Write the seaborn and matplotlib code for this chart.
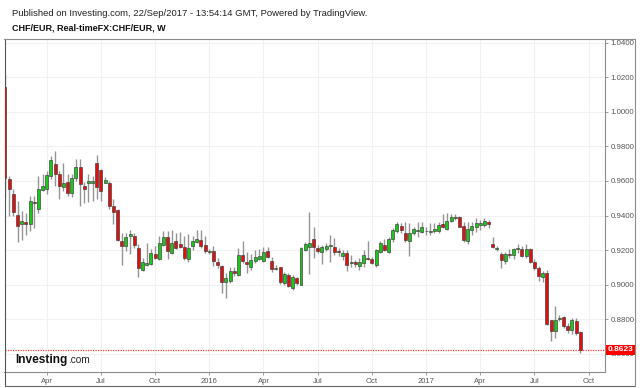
import numpy as np
import pandas as pd
import matplotlib
matplotlib.use("Agg")
import matplotlib.pyplot as plt
import matplotlib.dates as mdates
import matplotlib.transforms as mtransforms
from matplotlib.lines import Line2D
import seaborn as sns

# ---------------- data (weekly CHF/EUR candles, from week of 26 Jan 2015) ----------------
start_week = "2015-01-26"
opens = [1.0144, 0.9614, 0.9522, 0.9402, 0.9348, 0.9361, 0.9348, 0.9480, 0.9439, 0.9548,
         0.9551, 0.9629, 0.9701, 0.9643, 0.9563, 0.9592, 0.9528, 0.9617, 0.9682, 0.9573,
         0.9588, 0.9588, 0.9705, 0.9662, 0.9590, 0.9590, 0.9454, 0.9431, 0.9254, 0.9221,
         0.9280, 0.9280, 0.9212, 0.9085, 0.9113, 0.9118, 0.9175, 0.9148, 0.9231, 0.9274,
         0.9183, 0.9250, 0.9237, 0.9216, 0.9148, 0.9221, 0.9249, 0.9260, 0.9231, 0.9186,
         0.9192, 0.9128, 0.9105, 0.9012, 0.9021, 0.9080, 0.9058, 0.9171, 0.9128, 0.9103,
         0.9136, 0.9150, 0.9138, 0.9196, 0.9138, 0.9089, 0.9101, 0.9006, 0.9054, 0.8977,
         0.9039, 0.9000, 0.9200, 0.9216, 0.9262, 0.9210, 0.9190, 0.9204, 0.9225, 0.9216,
         0.9194, 0.9165, 0.9184, 0.9122, 0.9128, 0.9107, 0.9122, 0.9153, 0.9149, 0.9113,
         0.9190, 0.9229, 0.9190, 0.9262, 0.9311, 0.9338, 0.9297, 0.9254, 0.9297, 0.9309,
         0.9307, 0.9309, 0.9305, 0.9313, 0.9313, 0.9351, 0.9322, 0.9371, 0.9386, 0.9390,
         0.9340, 0.9254, 0.9317, 0.9336, 0.9344, 0.9346, 0.9363, 0.9235, 0.9204, 0.9178,
         0.9136, 0.9177, 0.9173, 0.9204, 0.9208, 0.9165, 0.9204, 0.9130, 0.9097, 0.9045,
         0.9068, 0.8792, 0.8728, 0.8800, 0.8812, 0.8761, 0.8734, 0.8788, 0.8722]
highs = [1.0221, 0.9629, 0.9551, 0.9483, 0.9425, 0.9412, 0.9513, 0.9513, 0.9629, 0.9639,
         0.9658, 0.9746, 0.9775, 0.9658, 0.9707, 0.9639, 0.9639, 0.9730, 0.9730, 0.9596,
         0.9639, 0.9629, 0.9750, 0.9668, 0.9623, 0.9600, 0.9493, 0.9439, 0.9299, 0.9299,
         0.9318, 0.9299, 0.9237, 0.9153, 0.9241, 0.9206, 0.9221, 0.9280, 0.9309, 0.9309,
         0.9318, 0.9299, 0.9303, 0.9280, 0.9290, 0.9280, 0.9318, 0.9314, 0.9284, 0.9206,
         0.9225, 0.9153, 0.9115, 0.9066, 0.9103, 0.9103, 0.9210, 0.9254, 0.9190, 0.9177,
         0.9200, 0.9204, 0.9219, 0.9216, 0.9157, 0.9115, 0.9103, 0.9074, 0.9064, 0.9054,
         0.9045, 0.9216, 0.9249, 0.9423, 0.9336, 0.9229, 0.9229, 0.9239, 0.9287, 0.9268,
         0.9210, 0.9200, 0.9200, 0.9171, 0.9142, 0.9151, 0.9200, 0.9254, 0.9157, 0.9204,
         0.9254, 0.9262, 0.9278, 0.9326, 0.9365, 0.9355, 0.9365, 0.9357, 0.9336, 0.9360,
         0.9362, 0.9336, 0.9355, 0.9355, 0.9365, 0.9410, 0.9414, 0.9410, 0.9410, 0.9398,
         0.9365, 0.9365, 0.9361, 0.9384, 0.9375, 0.9384, 0.9375, 0.9278, 0.9223, 0.9190,
         0.9190, 0.9204, 0.9210, 0.9235, 0.9224, 0.9233, 0.9214, 0.9146, 0.9107, 0.9078,
         0.9087, 0.8796, 0.8878, 0.8825, 0.8819, 0.8777, 0.8806, 0.8806, 0.8728]
lows = [0.9503, 0.9396, 0.9396, 0.9245, 0.9260, 0.9289, 0.9309, 0.9328, 0.9412, 0.9542,
        0.9522, 0.9610, 0.9571, 0.9497, 0.9542, 0.9513, 0.9509, 0.9600, 0.9454, 0.9470,
        0.9478, 0.9483, 0.9493, 0.9483, 0.9586, 0.9439, 0.9348, 0.9250, 0.9114, 0.9192,
        0.9179, 0.9212, 0.9041, 0.9076, 0.9105, 0.9111, 0.9148, 0.9144, 0.9221, 0.9148,
        0.9177, 0.9206, 0.9214, 0.9144, 0.9128, 0.9198, 0.9241, 0.9212, 0.9183, 0.9179,
        0.9105, 0.9095, 0.8951, 0.8920, 0.9006, 0.9050, 0.9049, 0.9122, 0.9064, 0.9087,
        0.9122, 0.9142, 0.9130, 0.9151, 0.9074, 0.9083, 0.9002, 0.8996, 0.8983, 0.8971,
        0.9000, 0.8996, 0.9194, 0.9060, 0.9151, 0.9184, 0.9117, 0.9196, 0.9132, 0.9171,
        0.9163, 0.9142, 0.9078, 0.9103, 0.9099, 0.9083, 0.9103, 0.9142, 0.9118, 0.9103,
        0.9181, 0.9194, 0.9184, 0.9249, 0.9301, 0.9297, 0.9249, 0.9165, 0.9287, 0.9278,
        0.9297, 0.9287, 0.9287, 0.9297, 0.9301, 0.9326, 0.9317, 0.9365, 0.9375, 0.9332,
        0.9249, 0.9235, 0.9287, 0.9307, 0.9317, 0.9332, 0.9326, 0.9210, 0.9196, 0.9093,
        0.9118, 0.9151, 0.9148, 0.9181, 0.9161, 0.9155, 0.9126, 0.9087, 0.9019, 0.9014,
        0.8767, 0.8670, 0.8689, 0.8790, 0.8748, 0.8718, 0.8715, 0.8709, 0.8602]
closes = [0.9619, 0.9551, 0.9419, 0.9342, 0.9371, 0.9350, 0.9483, 0.9472, 0.9551, 0.9571,
          0.9633, 0.9722, 0.9639, 0.9571, 0.9590, 0.9532, 0.9617, 0.9682, 0.9581, 0.9551,
          0.9598, 0.9598, 0.9567, 0.9542, 0.9608, 0.9454, 0.9421, 0.9260, 0.9221, 0.9274,
          0.9293, 0.9227, 0.9095, 0.9128, 0.9124, 0.9183, 0.9155, 0.9241, 0.9274, 0.9196,
          0.9241, 0.9212, 0.9217, 0.9153, 0.9212, 0.9254, 0.9264, 0.9221, 0.9192, 0.9192,
          0.9134, 0.9111, 0.9017, 0.9037, 0.9080, 0.9064, 0.9171, 0.9138, 0.9118, 0.9142,
          0.9157, 0.9165, 0.9186, 0.9157, 0.9091, 0.9093, 0.9012, 0.9060, 0.8992, 0.9045,
          0.9006, 0.9210, 0.9235, 0.9239, 0.9220, 0.9192, 0.9216, 0.9223, 0.9229, 0.9190,
          0.9186, 0.9181, 0.9113, 0.9132, 0.9118, 0.9132, 0.9171, 0.9149, 0.9126, 0.9200,
          0.9243, 0.9200, 0.9264, 0.9316, 0.9350, 0.9314, 0.9256, 0.9297, 0.9320, 0.9315,
          0.9334, 0.9313, 0.9309, 0.9320, 0.9346, 0.9336, 0.9371, 0.9390, 0.9394, 0.9336,
          0.9258, 0.9320, 0.9340, 0.9355, 0.9355, 0.9371, 0.9353, 0.9216, 0.9210, 0.9140,
          0.9175, 0.9173, 0.9206, 0.9210, 0.9168, 0.9208, 0.9130, 0.9097, 0.9049, 0.9064,
          0.8773, 0.8728, 0.8796, 0.8808, 0.8761, 0.8734, 0.8796, 0.8718, 0.8623]
y_ticks = [0.86, 0.88, 0.90, 0.92, 0.94, 0.96, 0.98, 1.00, 1.02, 1.04]
title_1 = "Published on Investing.com, 22/Sep/2017 - 13:54:14 GMT, Powered by TradingView."
title_2 = "CHF/EUR, Real-timeFX:CHF/EUR, W"

# ---------------- styling ----------------
sns.set_theme(style="white")
plt.rcParams["font.family"] = ["Liberation Sans", "DejaVu Sans"]

W, H = 640, 388
fig = plt.figure(figsize=(W / 100, H / 100), dpi=100)
fig.patch.set_facecolor("white")
ax = fig.add_axes([4.5 / W, 1 - 372 / H, 600 / W, 333 / H])
ax.set_facecolor("white")

o = np.array(opens); h = np.array(highs); l = np.array(lows); c = np.array(closes)
dates = pd.date_range(start_week, periods=len(c), freq="W-MON")
x = mdates.date2num(dates)

up = c >= o
body_bottom = np.minimum(o, c)
body_h = np.maximum(np.abs(c - o), 0.00025)
colors = np.where(up, "#19c819", "#e01010")

ax.vlines(x, l, h, color="#949494", lw=1.0, zorder=2)
ax.bar(x, body_h, bottom=body_bottom, width=5.0, color=colors,
       edgecolor="#3a3a3a", linewidth=0.45, zorder=3, align="center")

# last price line + label
last = c[-1]
ax.axhline(last, color="#ff3b3b", ls=(0, (1, 1)), lw=0.9, zorder=1)
trans = mtransforms.blended_transform_factory(ax.transAxes, ax.transData)
ax.text(1.0 + 3 / 600, last, f"{last:.4f}", transform=trans, ha="left", va="center",
        color="white", fontsize=6, fontweight="bold", clip_on=False, zorder=10,
        bbox=dict(boxstyle="square,pad=0.18", fc="#ff0000", ec="none"))

# axes limits
ax.set_xlim(x[0] - 0.12 * 7, x[0] + 143.8 * 7)
ax.set_ylim(0.8493, 1.0423)

# y axis on right
ax.yaxis.tick_right()
ax.set_yticks(y_ticks)
ax.set_yticklabels([f"{v:.4f}" for v in y_ticks])
ax.tick_params(axis="y", which="both", right=True, left=False, length=2.5, width=0.6,
               color="#888888", labelsize=5.7, labelcolor="#555555", pad=2)

# x ticks at first bar of each quarter
ext = pd.date_range(start_week, periods=145, freq="W-MON")
tick_pos, tick_lab = [], []
for i in range(1, len(ext)):
    d = ext[i]
    if d.month != ext[i - 1].month and d.month in (1, 4, 7, 10):
        tick_pos.append(mdates.date2num(d))
        tick_lab.append(str(d.year) if d.month == 1 else d.strftime("%b"))
ax.set_xticks(tick_pos)
ax.set_xticklabels(tick_lab)
ax.tick_params(axis="x", bottom=True, length=2, width=0.6, color="#888888",
               labelsize=5.5, labelcolor="#555555", pad=2.5)

ax.grid(True, color="#f1f1f1", lw=0.8, zorder=0)
ax.set_axisbelow(True)

for side, sp in ax.spines.items():
    sp.set_visible(True)
    sp.set_linewidth(0.8)
    sp.set_color("#8c8c8c")
ax.spines["left"].set_color("#555555")

# outer frame of the widget
fx = lambda px: px / W
fy = lambda py: 1 - py / H
fig.add_artist(Line2D([fx(4.5), fx(4.5)], [fy(372), fy(386)], color="#555555", lw=0.8))
fig.add_artist(Line2D([fx(4.5), fx(635)], [fy(386), fy(386)], color="#666666", lw=0.8))
fig.add_artist(Line2D([fx(635), fx(635)], [fy(39), fy(386)], color="#8c8c8c", lw=0.8))
fig.add_artist(Line2D([fx(604.5), fx(635)], [fy(39), fy(39)], color="#8c8c8c", lw=0.8))

# titles
fig.text(fx(11.5), fy(13.5), title_1, fontsize=6.8, color="#222222", ha="left", va="center")
fig.text(fx(11.5), fy(28.5), title_2, fontsize=6.5, fontweight="bold", color="#111111",
         ha="left", va="center")

# logo
t1 = fig.text(fx(15.5), fy(363.3), "Investing", fontsize=8.6, fontweight="bold",
              color="#111111", ha="left", va="baseline", zorder=20)
fig.canvas.draw()
bb = t1.get_window_extent(renderer=fig.canvas.get_renderer())
fig.text(bb.x1 / W, fy(363.3), ".com", fontsize=7.3, color="#222222", ha="left",
         va="baseline", zorder=20)

fig.savefig("out.png", dpi=100, facecolor="white")
